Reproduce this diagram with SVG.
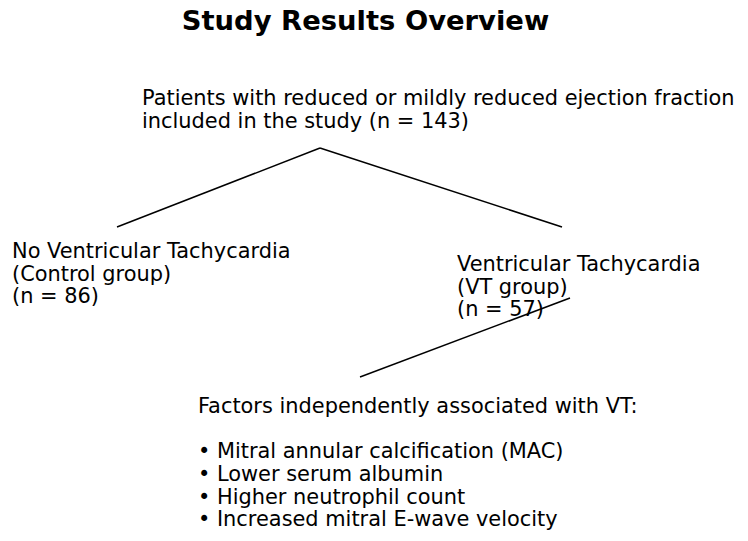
<svg xmlns="http://www.w3.org/2000/svg" width="748" height="541" viewBox="0 0 748 541">
<style>
text { font-family: "DejaVu Sans", sans-serif; font-size: 20.9px; fill: #000; }
.title { font-weight: bold; font-size: 27.4px; }
.conn line { stroke: #000; stroke-width: 1.5; fill: none; }
</style>
<rect width="748" height="541" fill="#fff"/>
<text class="title" x="365.5" y="30" text-anchor="middle">Study Results Overview</text>
<g id="node-patients">
<text x="142" y="105">Patients with reduced or mildly reduced ejection fraction</text>
<text x="142" y="127.5">included in the study (n = 143)</text>
</g>
<g id="node-control">
<text x="12" y="258">No Ventricular Tachycardia</text>
<text x="12" y="280.5">(Control group)</text>
<text x="12" y="303">(n = 86)</text>
</g>
<g id="node-vt">
<text x="457" y="271">Ventricular Tachycardia</text>
<text x="457" y="293.5">(VT group)</text>
<text x="457" y="316">(n = 57)</text>
</g>
<g id="node-factors">
<text x="198" y="413">Factors independently associated with VT:</text>
<text x="198" y="458.4">• Mitral annular calcification (MAC)</text>
<text x="198" y="481">• Lower serum albumin</text>
<text x="198" y="503.6">• Higher neutrophil count</text>
<text x="198" y="526.3">• Increased mitral E-wave velocity</text>
</g>
<g id="connectors" class="conn">
<line x1="320" y1="148" x2="117" y2="227"/>
<line x1="320" y1="148" x2="562" y2="227"/>
<line x1="570" y1="298" x2="360" y2="377"/>
</g>
</svg>
